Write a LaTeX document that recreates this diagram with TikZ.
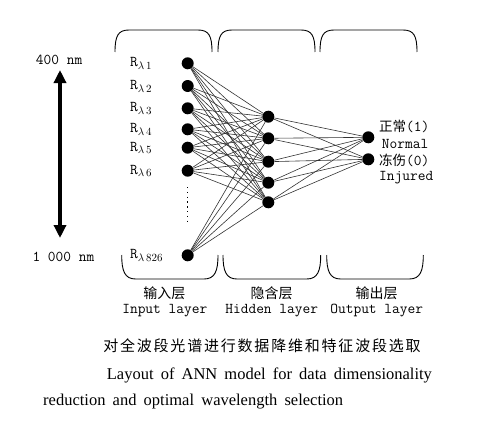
\documentclass[tikz,border=0pt]{standalone}
\usepackage{fontspec}
\setmainfont{Liberation Serif}
\newfontfamily\cjk{Noto Sans CJK SC}
\newfontfamily\cjkwide[LetterSpace=12]{Noto Sans CJK SC}
\usetikzlibrary{arrows.meta}

\begin{document}
\begin{tikzpicture}[x=1pt, y=-1pt,
  every node/.style={inner sep=0pt},
  neuron/.style={circle, fill=black, minimum size=12pt},
  mono/.style={anchor=base west, font=\fontsize{15}{17}\selectfont\ttfamily},
  monoc/.style={anchor=base, font=\fontsize{15}{17}\selectfont\ttfamily},
  zh/.style={font=\fontsize{14}{16}\selectfont\cjk},
  link/.style={line width=0.6pt, draw=black!80},
  brace/.style={line width=0.9pt},
  dotline/.style={line width=1.3pt, dash pattern=on 1.3pt off 3.5pt},
  wavearrow/.style={{Triangle[width=12pt,length=13pt]}-{Triangle[width=12pt,length=13pt]}, line width=4pt}
]
\useasboundingbox (0,0) rectangle (487,428);

% wavelength range
\node[mono] (nm400)  at (35.7,64)   {400 nm};
\node[mono] (nm1000) at (32.3,261.7) {1 000 nm};
\coordinate (wtop) at (60,70);
\coordinate (wbot) at (60,238);
\draw[wavearrow] (wtop) -- (wbot);

% input layer
\node[neuron] (in1) at (187.7,63.3)  {};
\node[neuron] (in2) at (187.7,86)    {};
\node[neuron] (in3) at (187.7,108.3) {};
\node[neuron] (in4) at (187.7,129.3) {};
\node[neuron] (in5) at (187.7,147.7) {};
\node[neuron] (in6) at (187.7,170.7) {};
\node[neuron] (in7) at (187.7,255.3) {};
\coordinate (dtop) at (187.5,187);
\coordinate (dbot) at (187.5,221);
\draw[dotline] (dtop) -- (dbot);

\node[mono] (r1) at (130,66.7)  {R$_{\lambda\,1}$};
\node[mono] (r2) at (130,89.4)  {R$_{\lambda\,2}$};
\node[mono] (r3) at (130,111.7) {R$_{\lambda\,3}$};
\node[mono] (r4) at (130,132.7) {R$_{\lambda\,4}$};
\node[mono] (r5) at (130,151.1) {R$_{\lambda\,5}$};
\node[mono] (r6) at (130,174.1) {R$_{\lambda\,6}$};
\node[mono] (r7) at (130,258.7) {R$_{\lambda\,826}$};

% hidden layer
\node[neuron] (h1) at (268.3,116.7) {};
\node[neuron] (h2) at (268.3,138.3) {};
\node[neuron] (h3) at (268.3,161.7) {};
\node[neuron] (h4) at (268.3,182.7) {};
\node[neuron] (h5) at (268.3,202.3) {};

% output layer
\node[neuron] (o1) at (368.3,137.3) {};
\node[neuron] (o2) at (368.3,159.3) {};
\node[mono] (o1zh) at (379,131) {{\fontsize{13.5}{15}\selectfont\cjk 正常}(1)};
\node[mono] (o1en) at (381.7,148.3) {Normal};
\node[mono] (o2zh) at (379,165.8) {{\fontsize{13.5}{15}\selectfont\cjk 冻伤}(0)};
\node[mono] (o2en) at (379,180) {Injured};

\foreach \i in {1,...,7}
  \foreach \j in {1,...,5}
    \draw[link] (in\i) -- (h\j);
\foreach \j in {1,...,5}
  \foreach \k in {1,2}
    \draw[link] (h\j) -- (o\k);

% braces above
\draw[brace] (115,52) .. controls (115,36) and (118,30) .. (129,30) -- (198,30) .. controls (209,30) and (212,36) .. (212,52);
\draw[brace] (218,52) .. controls (218,36) and (221,30) .. (232,30) -- (301,30) .. controls (312,30) and (315,36) .. (315,52);
\draw[brace] (320,52) .. controls (320,36) and (323,30) .. (334,30) -- (403,30) .. controls (414,30) and (417,36) .. (417,52);
% braces below
\draw[brace] (121.7,255) .. controls (121.7,271) and (124.7,279) .. (135.7,279) -- (204,279) .. controls (215,279) and (218,271) .. (218,255);
\draw[brace] (223,255) .. controls (223,271) and (226,279) .. (237,279) -- (306.7,279) .. controls (317.7,279) and (320.7,271) .. (320.7,255);
\draw[brace] (326.7,255) .. controls (326.7,271) and (329.7,279) .. (340.7,279) -- (409.3,279) .. controls (420.3,279) and (423.3,271) .. (423.3,255);

% layer names
\node[zh] (inzh)  at (164.3,293.7) {输入层};
\node[monoc] (inen)  at (164.8,313.3) {Input layer};
\node[zh] (hidzh) at (271.7,293.7) {隐含层};
\node[monoc] (hiden) at (271.7,313.3) {Hidden layer};
\node[zh] (outzh) at (376.7,293.7) {输出层};
\node[monoc] (outen) at (376.7,313.3) {Output layer};

% caption
\node[font=\fontsize{15}{17}\selectfont\cjkwide] (capzh) at (262,346) {对全波段光谱进行数据降维和特征波段选取};
\node[anchor=base west, font=\fontsize{16.5}{19}\selectfont] (capen1) at (106.7,379.5)
  {\makebox[325pt][s]{Layout of ANN model for data dimensionality}};
\node[anchor=base west, font=\fontsize{16.5}{19}\selectfont] (capen2) at (43,405.5)
  {\makebox[300pt][s]{reduction and optimal wavelength selection}};

\end{tikzpicture}
\end{document}
